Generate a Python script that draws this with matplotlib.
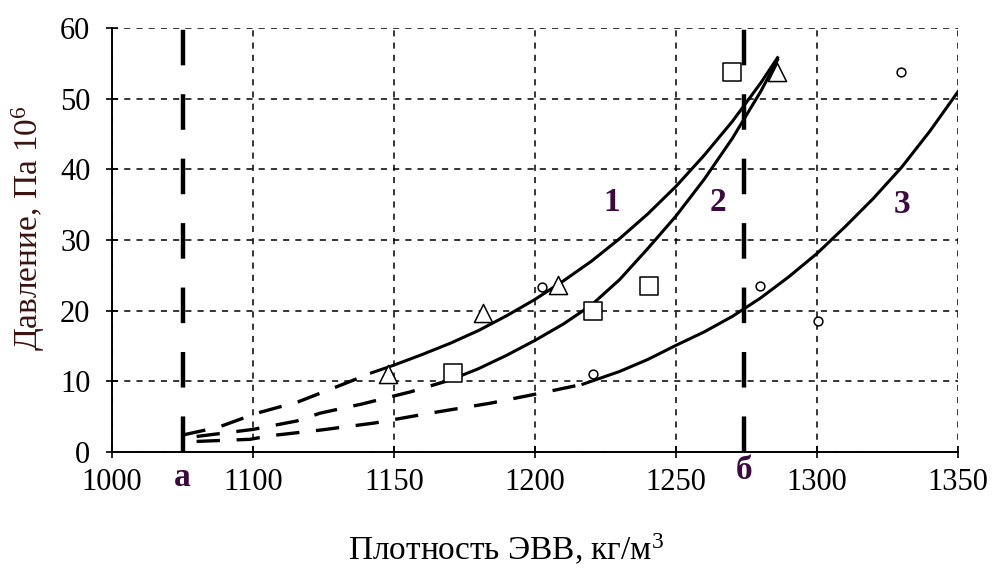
import matplotlib
matplotlib.use("Agg")
import matplotlib.pyplot as plt

plt.rcParams['font.family'] = ['Liberation Serif', 'DejaVu Serif']
plt.rcParams['mathtext.fontset'] = 'custom'
plt.rcParams['mathtext.rm'] = 'Liberation Serif'
plt.rcParams['mathtext.it'] = 'Liberation Serif'

# x axis: evenly spaced ticks, the first one is labelled 1000 in the source
x_ticks = [1050, 1100, 1150, 1200, 1250, 1300, 1350]
x_tick_labels = ['1000', '1100', '1150', '1200', '1250', '1300', '1350']
y_ticks = [0, 10, 20, 30, 40, 50, 60]

# measured points
tri_x = [1148, 1181.6, 1208, 1285.8]
tri_y = [11.0, 19.7, 23.6, 53.8]
sq_x = [1170.9, 1220.6, 1240.4, 1269.9]
sq_y = [11.2, 20.0, 23.5, 53.8]
circ_x = [1202.5, 1220.6, 1279.8, 1300.2, 1329.8]
circ_y = [23.4, 11.0, 23.5, 18.6, 53.8]

# fitted curves (solid part)
c1_x = [1142, 1150, 1160, 1170, 1180, 1190, 1200, 1210, 1220, 1230, 1240, 1250, 1260, 1270, 1280, 1286]
c1_y = [11.2, 12.3, 13.8, 15.4, 17.2, 19.3, 21.6, 24.2, 27.0, 30.2, 33.7, 37.6, 42.0, 46.8, 52.2, 55.8]
c2_x = [1170, 1180, 1190, 1200, 1210, 1220, 1230, 1240, 1250, 1260, 1270, 1280, 1286]
c2_y = [10.2, 11.8, 13.7, 15.8, 18.1, 20.8, 24.4, 28.8, 33.4, 38.6, 44.4, 51.0, 55.5]
c3_x = [1217, 1230, 1240, 1250, 1260, 1270, 1280, 1290, 1300, 1310, 1320, 1330, 1340, 1350]
c3_y = [9.6, 11.4, 13.1, 15.1, 17.0, 19.2, 21.8, 24.8, 28.1, 31.9, 35.9, 40.3, 45.4, 51.0]

# extrapolated parts (dashed)
d1_x = [1075, 1087.6, 1101.4, 1116, 1132, 1142]
d1_y = [2.4, 3.5, 5.5, 7.1, 9.6, 11.2]
d2_x = [1080, 1100, 1115.6, 1123.8, 1138.7, 1155.7, 1170]
d2_y = [2.2, 3.2, 4.4, 5.5, 6.8, 8.5, 10.2]
d3_x = [1080, 1099, 1106, 1123.8, 1143, 1162.8, 1184, 1202.8, 1217]
d3_y = [1.5, 1.8, 2.3, 3.1, 4.1, 5.5, 6.9, 8.4, 9.6]

x_a = 1075
x_b = 1274

fig = plt.figure(figsize=(9.93, 5.74), dpi=100)
ax = fig.add_axes([0.1128, 0.2125, 0.852, 0.7387])

ax.set_xlim(1050, 1350)
ax.set_ylim(0, 60)

ax.plot(c1_x, c1_y, color='black', lw=2.2)
ax.plot(c2_x, c2_y, color='black', lw=2.2)
ax.plot(c3_x, c3_y, color='black', lw=2.2)
for dx, dy in [(d1_x, d1_y), (d2_x, d2_y), (d3_x, d3_y)]:
    ax.plot(dx, dy, color='black', lw=2.4, dashes=(7, 5))

ax.axvline(x_a, color='black', lw=3.2, dashes=(8, 6.5))
ax.axvline(x_b, color='black', lw=3.2, dashes=(8, 6.5))

ax.scatter(tri_x, tri_y, marker='^', s=170, facecolors='white', edgecolors='black', linewidths=1.1, zorder=3)
ax.scatter(sq_x, sq_y, marker='s', s=150, facecolors='white', edgecolors='black', linewidths=1.1, zorder=3)
ax.scatter(circ_x, circ_y, marker='o', s=40, facecolors='white', edgecolors='black', linewidths=1.1, zorder=3)

lab_col = '#3b0a40'
ax.text(1227.3, 35.3, '1', fontsize=24, fontweight='bold', color=lab_col, ha='center', va='center')
ax.text(1264.9, 35.3, '2', fontsize=24, fontweight='bold', color=lab_col, ha='center', va='center')
ax.text(1330, 35.0, '3', fontsize=24, fontweight='bold', color=lab_col, ha='center', va='center')
ax.text(x_a, -3.6, 'а', fontsize=24, fontweight='bold', color=lab_col, ha='center', va='center')
ax.text(x_b, -2.6, 'б', fontsize=24, fontweight='bold', color=lab_col, ha='center', va='center')

ax.set_xticks(x_ticks)
ax.set_xticklabels(x_tick_labels)
ax.set_yticks(y_ticks)
ax.tick_params(direction='inout', length=9, width=1.2, labelsize=22)
ax.tick_params(axis='x', pad=7)
ax.tick_params(axis='y', pad=11)

ax.grid(True, color='black', lw=1.1, dashes=(4, 4))
ax.set_axisbelow(True)
ax.spines['top'].set_visible(False)
ax.spines['right'].set_visible(False)
ax.spines['left'].set_linewidth(1.4)
ax.spines['bottom'].set_linewidth(1.4)

ax.set_xlabel('Плотность ЭВВ, кг/м$^3$', fontsize=24)
ax.xaxis.set_label_coords(0.466, -0.19)
ax.set_ylabel('Давление, Па 10$^6$', fontsize=24, color='#3a1410')
ax.yaxis.set_label_coords(-0.077, 0.528)

fig.savefig('out.png', dpi=100)
